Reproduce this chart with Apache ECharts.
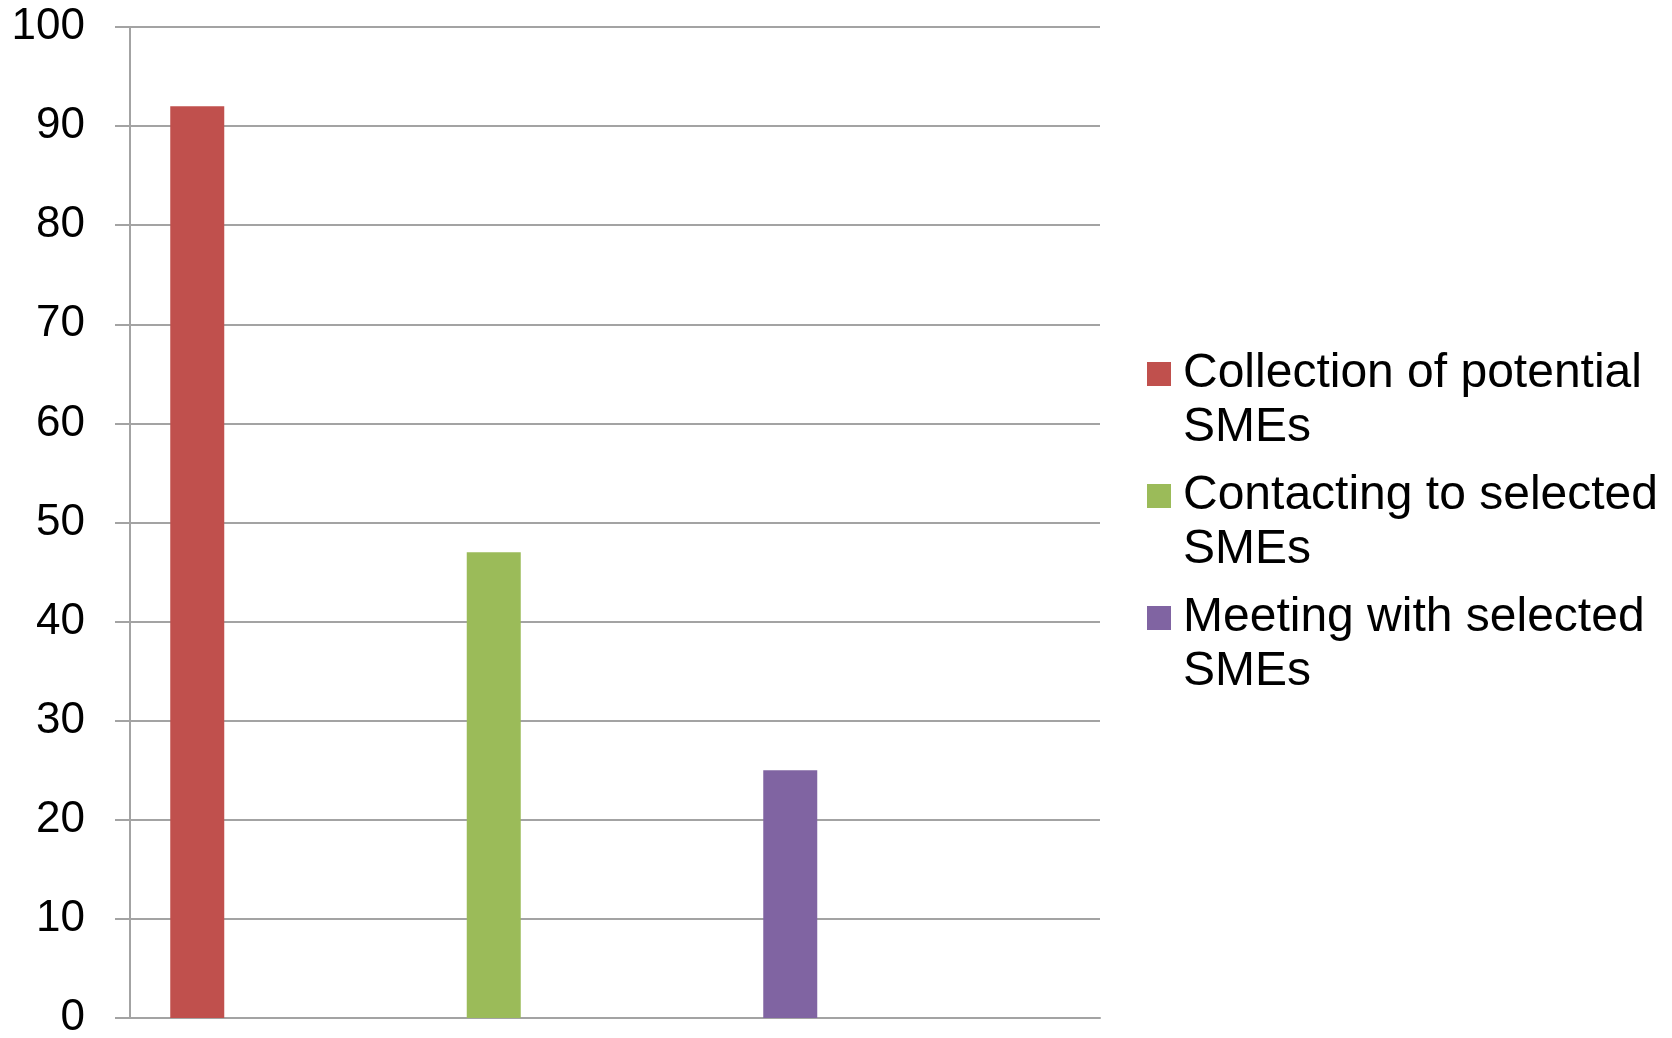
<!DOCTYPE html>
<html>
<head>
<meta charset="utf-8">
<script src="https://cdn.jsdelivr.net/npm/echarts@6/dist/echarts.min.js"></script>
<style>
html,body{margin:0;padding:0;background:#fff;}
#chart{width:1672px;height:1038px;}
</style>
</head>
<body>
<div id="chart"></div>
<script>
// Data
const categories = ['', '', '', ''];
const seriesNames = [
  'Collection of potential\nSMEs',
  'Contacting to selected\nSMEs',
  'Meeting with selected\nSMEs'
];
const collectionValues = [92, '-', '-', '-'];
const contactingValues = ['-', 47, '-', '-'];
const meetingValues = ['-', '-', 25, '-'];
const yTicks = [0, 10, 20, 30, 40, 50, 60, 70, 80, 90, 100];

const colors = ['#C0504D', '#9BBB59', '#8064A2'];
const gridColor = '#a3a3a3';
const fontFamily = '"Liberation Sans", Arial, sans-serif';

const chart = echarts.init(document.getElementById('chart'));
chart.setOption({
  animation: false,
  backgroundColor: '#ffffff',
  color: colors,
  grid: {
    left: 130, right: 572, top: 27, bottom: 20,
    containLabel: false,
    outerBoundsMode: 'none'
  },
  legend: {
    orient: 'vertical',
    left: 1147,
    top: 293,
    padding: 0,
    itemWidth: 24,
    itemHeight: 24,
    itemGap: -40,
    icon: 'rect',
    selectedMode: false,
    // leading empty line so the swatch lines up with the first text line
    formatter: function (name) { return '\n' + name; },
    textStyle: {
      fontFamily: fontFamily,
      fontSize: 48,
      lineHeight: 54,
      color: '#000',
      padding: [0, 0, 0, 7]
    },
    data: seriesNames
  },
  xAxis: {
    type: 'category',
    data: categories,
    axisLine: { show: true, lineStyle: { color: gridColor, width: 2 } },
    axisTick: { show: false },
    axisLabel: { show: false },
    splitLine: { show: false }
  },
  yAxis: {
    type: 'value',
    min: yTicks[0],
    max: yTicks[yTicks.length - 1],
    interval: 10,
    axisLine: { show: true, lineStyle: { color: gridColor, width: 2 } },
    axisTick: { show: true, length: 15, lineStyle: { color: gridColor, width: 2 } },
    axisLabel: {
      margin: 45,
      fontFamily: fontFamily,
      fontSize: 44,
      color: '#000'
    },
    splitLine: { show: true, lineStyle: { color: gridColor, width: 2 } }
  },
  series: [
    { name: seriesNames[0], type: 'bar', data: collectionValues, barWidth: 54, barGap: '0%' },
    { name: seriesNames[1], type: 'bar', data: contactingValues, barWidth: 54, barGap: '0%' },
    { name: seriesNames[2], type: 'bar', data: meetingValues, barWidth: 54, barGap: '0%' }
  ]
});
</script>
</body>
</html>
